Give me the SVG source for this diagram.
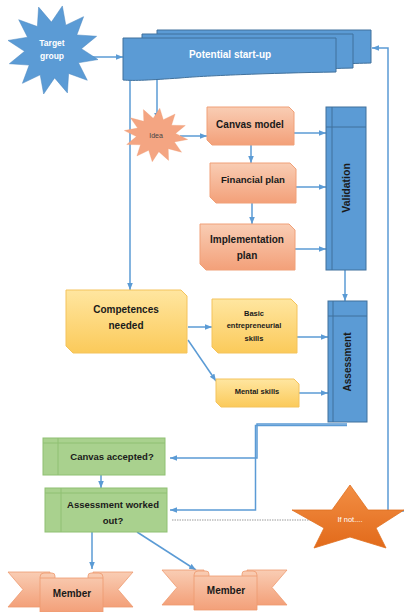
<svg xmlns="http://www.w3.org/2000/svg" xmlns:xlink="http://www.w3.org/1999/xlink" width="406" height="612" viewBox="0 0 406 612">
<style>
.lbl{font-family:"Liberation Sans",Arial,sans-serif;font-weight:bold;fill:#1a1a1a;text-anchor:middle}
.wlbl{font-family:"Liberation Sans",Arial,sans-serif;font-weight:bold;fill:#ffffff;text-anchor:middle}
.blue{fill:#5B9BD5;stroke:#41719C;stroke-width:1}
.orange{fill:url(#gOrange);stroke:#F0A078;stroke-width:1}
.yellow{fill:url(#gYellow);stroke:#F4C35C;stroke-width:1}
.green{fill:#A9D18E;stroke:#8FC072;stroke-width:1}
.gline{fill:none;stroke:#8FC072;stroke-width:1}
.bline{fill:none;stroke:#41719C;stroke-width:1}
.conn{fill:none;stroke:#5B9BD5;stroke-width:1.5}
.arr{marker-end:url(#ah)}
.rib{fill:url(#gOrange);stroke:#EE9A70;stroke-width:0.8}
</style>
<defs>
<linearGradient id="gOrange" x1="0" y1="0" x2="0" y2="1">
<stop offset="0" stop-color="#F9CDB4"/><stop offset="1" stop-color="#F3A079"/>
</linearGradient>
<linearGradient id="gYellow" x1="0" y1="0" x2="0" y2="1">
<stop offset="0" stop-color="#FFE6A0"/><stop offset="1" stop-color="#FBCA5A"/>
</linearGradient>
<linearGradient id="gStar" x1="0" y1="0" x2="0" y2="1">
<stop offset="0" stop-color="#F28E44"/><stop offset="1" stop-color="#E26A1A"/>
</linearGradient>
<marker id="ah" viewBox="0 0 10 10" refX="10" refY="5" markerWidth="7" markerHeight="7" markerUnits="userSpaceOnUse" orient="auto">
<path d="M0,1 L10,5 L0,9 z" fill="#5B9BD5"/>
</marker>
<polygon id="star12" points="0,-100 16,-59.9 50,-86.6 43.8,-43.8 86.6,-50 59.9,-16 100,0 59.9,16 86.6,50 43.8,43.8 50,86.6 16,59.9 0,100 -16,59.9 -50,86.6 -43.8,43.8 -86.6,50 -59.9,16 -100,0 -59.9,-16 -86.6,-50 -43.8,-43.8 -50,-86.6 -16,-59.9"/>
<g id="ribbon">
<polygon class="rib" points="8,572 50,572 50,607 8,607 23,589.5"/>
<polygon class="rib" points="93,572 133,572 118,589.5 133,607 93,607"/>
<path class="rib" d="M40,612 V577 Q40,573 44,573 H52 Q55,573 55,576 V578 H88 V576 Q88,573 91,573 H99 Q103,573 103,577 V612 Z"/>
<path fill="none" stroke="#EE9A70" stroke-width="0.8" d="M40,578 H55 M88,578 H103"/>
</g>
</defs>

<g id="connectors">
<path class="conn arr" d="M80,57 H123"/>
<path class="conn arr" d="M130,80 V290"/>
<path class="conn arr" d="M157,76 V120"/>
<path class="conn arr" d="M180,136 H207"/>
<path class="conn arr" d="M251,145 V163"/>
<path class="conn arr" d="M252,203 V224"/>
<path class="conn arr" d="M294,133 H326"/>
<path class="conn arr" d="M296,187 H326"/>
<path class="conn arr" d="M295,249 H326"/>
<path class="conn arr" d="M345,270 V301"/>
<path class="conn arr" d="M188,327 H212"/>
<path class="conn arr" d="M188,340 L216,381"/>
<path class="conn arr" d="M297,337 H328"/>
<path class="conn arr" d="M299,393 H328"/>
<path class="conn arr" d="M347,424 H257 V458 H170"/>
<path class="conn arr" d="M347,425.5 H255.5 V510 H170"/>
<path class="conn arr" d="M101,475 V488"/>
<path class="conn arr" d="M92,532 V569"/>
<path class="conn arr" d="M137,532 L196,570"/>
<path class="conn arr" d="M404,511 H388 V48 H372"/>
<path fill="none" stroke="#9A9A9A" stroke-width="1" stroke-dasharray="1.5,1" d="M172,520 H312"/>
</g>

<g id="target-group">
<use xlink:href="#star12" transform="translate(53,50) rotate(12) scale(0.46,0.45)" fill="#5B9BD5" stroke="#4A86BF" stroke-width="1" vector-effect="non-scaling-stroke"/>
<text class="wlbl" x="52" y="46" font-size="8.5">Target</text>
<text class="wlbl" x="52" y="59" font-size="8.5">group</text>
</g>

<g id="potential-startup">
<path class="blue" d="M157,30 H371 V63 C330,64 300,66 157,70 Z"/>
<path class="blue" d="M142,34 H353 V68 C310,69 280,71 142,74 Z"/>
<path class="blue" d="M123,38 H336 V72 C270,73 200,76 180,78 C150,80 135,81 123,80 Z"/>
<text class="wlbl" x="230" y="58" font-size="10">Potential start-up</text>
</g>

<g id="idea">
<use xlink:href="#star12" transform="translate(156,135) rotate(8) scale(0.32,0.27)" fill="#F4A582" stroke="#EE9A70" stroke-width="1" vector-effect="non-scaling-stroke"/>
<text x="156" y="138" font-size="7" font-family="Liberation Sans,Arial,sans-serif" fill="#444" text-anchor="middle">Idea</text>
</g>

<g id="canvas-model">
<path class="orange" d="M207,107 H289 L294,112 V145 H212 L207,140 Z"/>
<text class="lbl" x="250" y="128" font-size="10">Canvas model</text>
</g>

<g id="financial-plan">
<path class="orange" d="M210,163 H290 L296,169 V203 H216 L210,197 Z"/>
<text class="lbl" x="253" y="183" font-size="9.6">Financial plan</text>
</g>

<g id="implementation-plan">
<path class="orange" d="M200,224 H289 L295,230 V270 H206 L200,264 Z"/>
<text class="lbl" x="247" y="243" font-size="10">Implementation</text>
<text class="lbl" x="247" y="259" font-size="10">plan</text>
</g>

<g id="validation">
<rect class="blue" x="326" y="107" width="40" height="163"/>
<path class="bline" d="M332,107 V270 M326,127 H366"/>
<text class="lbl" transform="translate(350,188) rotate(-90)" font-size="10.5">Validation</text>
</g>

<g id="competences-needed">
<path class="yellow" d="M66,290 H181 L187,296 V353 H73 L66,346 Z"/>
<text class="lbl" x="126" y="313" font-size="10">Competences</text>
<text class="lbl" x="126" y="329" font-size="10">needed</text>
</g>

<g id="basic-skills">
<path class="yellow" d="M212,299 H291 L297,305 V353 H218 L212,347 Z"/>
<text class="lbl" x="254" y="316" font-size="7.5">Basic</text>
<text class="lbl" x="254" y="328" font-size="7.5">entrepreneurial</text>
<text class="lbl" x="254" y="341" font-size="7.5">skills</text>
</g>

<g id="mental-skills">
<path class="yellow" d="M216,379 H294 L299,384 V407 H221 L216,402 Z"/>
<text class="lbl" x="257" y="394" font-size="7.5">Mental skills</text>
</g>

<g id="assessment">
<rect class="blue" x="328" y="301" width="39" height="121"/>
<path class="bline" d="M333,301 V422 M328,316 H367"/>
<text class="lbl" transform="translate(351,362) rotate(-90)" font-size="10">Assessment</text>
</g>

<g id="canvas-accepted">
<rect class="green" x="43" y="438" width="122" height="37"/>
<path class="gline" d="M58,438 V475 M43,443 H165"/>
<text class="lbl" x="112" y="460" font-size="9.5">Canvas accepted?</text>
</g>

<g id="assessment-worked-out">
<rect class="green" x="45" y="488" width="122" height="44"/>
<path class="gline" d="M61,488 V532 M45,493 H167"/>
<text class="lbl" x="113" y="508" font-size="9.5">Assessment worked</text>
<text class="lbl" x="113" y="524" font-size="9.5">out?</text>
</g>

<g id="if-not">
<polygon points="350,485 368,510 404,510 376,528 386,548 350,537 314,548 324,528 292,510 332,510" fill="url(#gStar)" stroke="#E0701F" stroke-width="0.8"/>
<text x="350" y="522" font-size="7.5" font-family="Liberation Sans,Arial,sans-serif" fill="#ffffff" text-anchor="middle">If not....</text>
</g>

<g id="member-1">
<use xlink:href="#ribbon"/>
<text class="lbl" x="72" y="597" font-size="10">Member</text>
</g>

<g id="member-2">
<use xlink:href="#ribbon" transform="translate(154,-2)"/>
<text class="lbl" x="226" y="594" font-size="10">Member</text>
</g>
</svg>
